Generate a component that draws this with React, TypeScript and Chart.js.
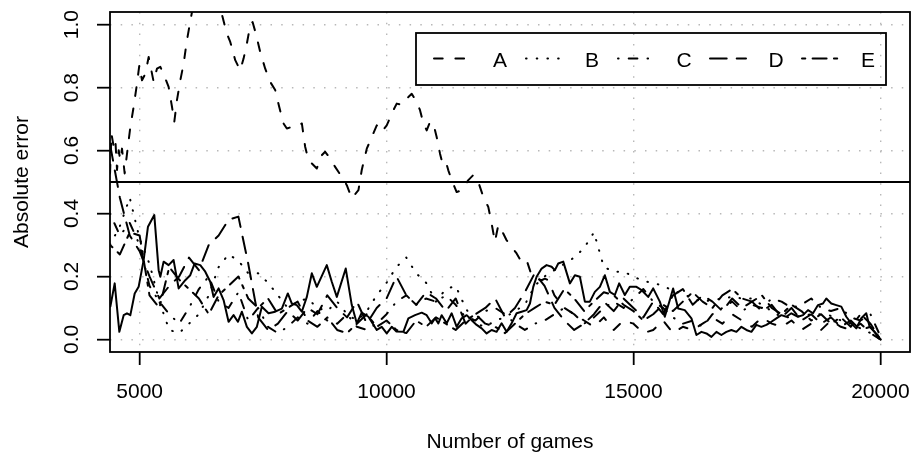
import React, { useEffect, useRef } from "react";
import { Chart, registerables } from "chart.js";

Chart.register(...registerables);

// ---------- data ----------
const xTicks = [5000, 10000, 15000, 20000];
const yTicks = [0, 0.2, 0.4, 0.6, 0.8, 1.0];
const yTickLabels = ["0.0", "0.2", "0.4", "0.6", "0.8", "1.0"];
const seriesNames = ["A", "B", "C", "D", "E"];
const xTitle = "Number of games";
const yTitle = "Absolute error";
const referenceLevel = 0.5;

const aGames = [
  4401, 4428, 4475, 4509, 4542, 4576, 4610, 4643, 4697, 4745,
  4812, 4879, 4947, 4994, 5048, 5115, 5183, 5237, 5284, 5351,
  5419, 5520, 5587, 5655, 5702, 5756, 5824, 5891, 5958, 6006,
  6060, 6200, 6400, 6550, 6653, 6767, 6835, 6936, 7037, 7105,
  7172, 7240, 7287, 7354, 7442, 7543, 7644, 7745, 7826, 7914,
  7981, 8082, 8184, 8285, 8352, 8420, 8487, 8588, 8689, 8757,
  8858, 8959, 9094, 9195, 9297, 9431, 9498, 9600, 9701, 9802,
  9903, 10004, 10139, 10206, 10320, 10442, 10510, 10611, 10678, 10746,
  10813, 10880, 10948, 11015, 11083, 11116, 11184, 11251, 11319, 11420,
  11521, 11656, 11757, 11858, 11959, 12060, 12128, 12195, 12263, 12330,
  12431, 12532, 12634, 12735, 12836, 12937, 13038, 13140, 13207, 13274,
  13400, 13600, 13800, 14000, 14200, 14400, 14600, 14800, 15000, 15200,
  15400, 15600, 15800, 16000, 16200, 16400, 16600, 16800, 17000, 17200,
  17400, 17600, 17800, 18000, 18200, 18400, 18600, 18800, 19000, 19200,
  19400, 19600, 19800, 20000,
];
const aValues = [
  0.527, 0.654, 0.612, 0.633, 0.538, 0.601, 0.569, 0.606, 0.527, 0.59,
  0.675, 0.739, 0.813, 0.871, 0.823, 0.844, 0.897, 0.855, 0.818, 0.86,
  0.866, 0.829, 0.802, 0.739, 0.691, 0.76, 0.823, 0.876, 0.95, 0.993,
  1.04, 1.12, 1.15, 1.12, 1.04, 0.971, 0.945, 0.887, 0.855, 0.892,
  0.94, 0.998, 1.008, 0.971, 0.913, 0.86, 0.818, 0.792, 0.739, 0.686,
  0.67, 0.675, 0.675, 0.686, 0.612, 0.569, 0.559, 0.543, 0.585, 0.596,
  0.575, 0.548, 0.516, 0.49, 0.448, 0.474, 0.538, 0.606, 0.643, 0.68,
  0.659, 0.68, 0.728, 0.749, 0.745, 0.77, 0.78, 0.754, 0.728, 0.686,
  0.664, 0.691, 0.686, 0.643, 0.59, 0.569, 0.575, 0.537, 0.506, 0.468,
  0.474, 0.506, 0.522, 0.5, 0.453, 0.421, 0.368, 0.31, 0.363, 0.347,
  0.315, 0.294, 0.273, 0.246, 0.252, 0.204, 0.193, 0.188, 0.193, 0.188,
  0.14, 0.1, 0.08, 0.06, 0.04, 0.07, 0.03, 0.06, 0.05, 0.02,
  0.03, 0.06, 0.02, 0.04, 0.03, 0.05, 0.07, 0.05, 0.08, 0.06,
  0.04, 0.07, 0.05, 0.04, 0.06, 0.03, 0.05, 0.03, 0.06, 0.04,
  0.03, 0.05, 0.02, 0.0,
];

const gamesGrid = [
  4400, 4600, 4800, 5000, 5200, 5400, 5600, 5800, 6000, 6200,
  6400, 6600, 6800, 7000, 7200, 7400, 7600, 7800, 8000, 8200,
  8400, 8600, 8800, 9000, 9200, 9400, 9600, 9800, 10000, 10200,
  10400, 10600, 10800, 11000, 11200, 11400, 11600, 11800, 12000, 12200,
  12400, 12600, 12800, 13000, 13200, 13400, 13600, 13800, 14000, 14200,
  14400, 14600, 14800, 15000, 15200, 15400, 15600, 15800, 16000, 16200,
  16400, 16600, 16800, 17000, 17200, 17400, 17600, 17800, 18000, 18200,
  18400, 18600, 18800, 19000, 19200, 19400, 19600, 19800, 20000,
];
const bValues = [
  0.3, 0.36, 0.45, 0.32, 0.24, 0.12, 0.03, 0.02, 0.05, 0.08,
  0.14, 0.23, 0.27, 0.25, 0.21, 0.21, 0.18, 0.14, 0.1, 0.12,
  0.13, 0.1, 0.09, 0.12, 0.08, 0.06, 0.09, 0.14, 0.18, 0.23,
  0.26, 0.21, 0.18, 0.12, 0.16, 0.17, 0.1, 0.05, 0.04, 0.06,
  0.07, 0.09, 0.11, 0.17, 0.2, 0.22, 0.24, 0.26, 0.29, 0.34,
  0.23, 0.215, 0.215, 0.2, 0.185, 0.18, 0.17, 0.155, 0.145, 0.13,
  0.12, 0.125, 0.13, 0.135, 0.13, 0.13, 0.11, 0.09, 0.07, 0.07,
  0.075, 0.08, 0.08, 0.075, 0.06, 0.05, 0.035, 0.02, 0.0,
];
const cValues = [
  0.4, 0.33, 0.37, 0.3, 0.17, 0.12, 0.08, 0.05, 0.1, 0.16,
  0.2, 0.12, 0.1, 0.15, 0.06, 0.1, 0.04, 0.02, 0.04, 0.07,
  0.05, 0.09, 0.06, 0.05, 0.08, 0.04, 0.03, 0.05, 0.08, 0.12,
  0.14, 0.11, 0.13, 0.12, 0.14, 0.11, 0.07, 0.06, 0.09, 0.1,
  0.08, 0.05, 0.03, 0.05, 0.06, 0.08, 0.1, 0.08, 0.05, 0.07,
  0.1, 0.12, 0.1, 0.13, 0.16, 0.12, 0.1, 0.07, 0.05, 0.06,
  0.04, 0.08, 0.1, 0.12, 0.09, 0.11, 0.1, 0.13, 0.12, 0.1,
  0.11, 0.13, 0.1, 0.09, 0.1, 0.07, 0.06, 0.08, 0.01,
];
const dValues = [
  0.62, 0.45, 0.33, 0.28, 0.2, 0.13, 0.17, 0.2, 0.26, 0.22,
  0.3, 0.33, 0.38, 0.39, 0.24, 0.07, 0.03, 0.05, 0.09, 0.06,
  0.1, 0.08, 0.14, 0.1, 0.07, 0.12, 0.05, 0.1, 0.13, 0.2,
  0.14, 0.11, 0.15, 0.13, 0.09, 0.13, 0.05, 0.08, 0.1, 0.13,
  0.07, 0.1, 0.15, 0.21, 0.17, 0.1, 0.06, 0.03, 0.05, 0.08,
  0.12, 0.09, 0.13, 0.1, 0.07, 0.12, 0.08, 0.14, 0.16, 0.11,
  0.14, 0.12, 0.09, 0.13, 0.1, 0.12, 0.09, 0.11, 0.07, 0.1,
  0.06, 0.08, 0.05, 0.07, 0.04, 0.06, 0.03, 0.04, 0.0,
];
const eValues = [
  0.3, 0.27, 0.34, 0.33, 0.14, 0.1, 0.23, 0.19, 0.16, 0.13,
  0.08, 0.14, 0.17, 0.2, 0.13, 0.1, 0.13, 0.08, 0.1, 0.12,
  0.06, 0.04, 0.07, 0.03, 0.02, 0.05, 0.08, 0.04, 0.06, 0.03,
  0.02, 0.06, 0.04, 0.07, 0.05, 0.03, 0.06, 0.08, 0.05, 0.04,
  0.02, 0.05, 0.08, 0.1, 0.12, 0.11, 0.16, 0.13, 0.09, 0.12,
  0.15, 0.14, 0.11, 0.09, 0.06, 0.08, 0.11, 0.09, 0.12, 0.15,
  0.12, 0.1, 0.14, 0.16, 0.13, 0.12, 0.14, 0.1, 0.08, 0.11,
  0.09, 0.06, 0.08, 0.05, 0.07, 0.04, 0.08, 0.05, 0.0,
];

// unlabelled solid series
const soloGames = [
  4407, 4495, 4589, 4677, 4744, 4812, 4900, 4980, 5081, 5169,
  5297, 5385, 5419, 5486, 5587, 5688, 5790, 5924, 6025, 6113,
  6228, 6329, 6430, 6497, 6599, 6700, 6801, 6902, 6990, 7071,
  7172, 7273, 7374, 7475, 7610, 7745, 7880, 8001, 8082, 8183,
  8284, 8386, 8487, 8588, 8790, 8891, 8993, 9174, 9296, 9397,
  9498, 9633,
  9802, 9903, 10004, 10105, 10200, 10341, 10442, 10577, 10712, 10813,
  10914, 10982, 11049, 11117, 11218, 11319, 11420, 11521, 11623, 11724,
  11825, 11926, 12027, 12128, 12229, 12330, 12432, 12533, 12634, 12735,
  12836, 12904, 12971, 13039, 13140, 13241, 13342, 13409, 13477, 13578,
  13713, 13814, 13915, 14016, 14117, 14218, 14320, 14421, 14522, 14623,
  14711, 14825, 14926, 15061,
  15163, 15298, 15399, 15534, 15635, 15736, 15803, 15905, 16039, 16174,
  16275, 16377, 16478, 16579, 16680, 16781, 16882, 16983, 17085, 17186,
  17287, 17388, 17489, 17590, 17691, 17793, 17894, 17995, 18096, 18197,
  18332, 18433, 18535, 18636, 18737, 18838, 18905, 19006, 19107, 19209,
  19310, 19411, 19512, 19613, 19714, 19782, 19883, 20004,
];
const soloValues = [
  0.104, 0.178, 0.024, 0.077, 0.083, 0.077, 0.146, 0.167, 0.252, 0.358,
  0.395, 0.22, 0.199, 0.247, 0.236, 0.252, 0.162, 0.188, 0.204, 0.241,
  0.236, 0.215, 0.183, 0.135, 0.162, 0.125, 0.056, 0.077, 0.056, 0.088,
  0.04, 0.019, 0.04, 0.104, 0.083, 0.088, 0.098, 0.146, 0.114, 0.109,
  0.088, 0.135, 0.21, 0.167, 0.236, 0.183, 0.135, 0.225, 0.109, 0.051,
  0.085, 0.072,
  0.03, 0.04, 0.019, 0.04, 0.025, 0.024, 0.067, 0.077, 0.085, 0.077,
  0.051, 0.067, 0.051, 0.077, 0.051, 0.083, 0.04, 0.067, 0.077, 0.061,
  0.046, 0.035, 0.019, 0.03, 0.024, 0.051, 0.024, 0.051, 0.083, 0.088,
  0.093, 0.114, 0.167, 0.199, 0.225, 0.236, 0.231, 0.22, 0.241, 0.247,
  0.178, 0.204, 0.199, 0.12, 0.12, 0.151, 0.167, 0.204, 0.151, 0.141,
  0.178, 0.141, 0.167, 0.167,
  0.157, 0.135, 0.162, 0.12, 0.072, 0.125, 0.162, 0.098, 0.093, 0.067,
  0.014, 0.024, 0.019, 0.008, 0.024, 0.014, 0.024, 0.03, 0.024, 0.04,
  0.03, 0.024, 0.046, 0.04, 0.046, 0.056, 0.067, 0.077, 0.072, 0.083,
  0.072, 0.077, 0.093, 0.083, 0.109, 0.114, 0.13, 0.114, 0.109, 0.104,
  0.072, 0.051, 0.035, 0.067, 0.083, 0.04, 0.024, 0.0,
];

// ---------- styling ----------
const FONT = '21px "Liberation Sans", Arial, Helvetica, sans-serif';
const LW = 2;
const X_MIN = 4400;
const X_MAX = 20600;
const dashes: number[][] = [
  [8.7, 12.7], // A dashed
  [0.6, 10.1], // B dotted
  [0.6, 10.1, 8.7, 10.1], // C dotdash
  [16.7, 10], // D longdash
  [3.3, 7.3, 14, 7.3], // E twodash
];

function pts(xs: number[], ys: number[]) {
  const n = Math.min(xs.length, ys.length);
  const out: { x: number; y: number }[] = [];
  for (let i = 0; i < n; i++) out.push({ x: xs[i], y: ys[i] });
  return out;
}

const framePlugin = {
  id: "rframe",
  afterDraw(chart: any) {
    const { ctx, chartArea: ca, scales } = chart;
    const xs = scales.x;
    const ys = scales.y;
    ctx.save();
    ctx.setLineDash([]);
    ctx.strokeStyle = "#000";
    ctx.lineWidth = 1.8;
    ctx.strokeRect(ca.left, ca.top, ca.right - ca.left, ca.bottom - ca.top);

    ctx.fillStyle = "#000";
    ctx.font = FONT;
    ctx.textAlign = "center";
    ctx.textBaseline = "alphabetic";
    xTicks.forEach((v) => ctx.fillText(String(v), xs.getPixelForValue(v), 398));
    ctx.fillText(xTitle, (ca.left + ca.right) / 2, 448);
    yTicks.forEach((v, i) => {
      ctx.save();
      ctx.translate(78, ys.getPixelForValue(v));
      ctx.rotate(-Math.PI / 2);
      ctx.fillText(yTickLabels[i], 0, 0);
      ctx.restore();
    });
    ctx.save();
    ctx.translate(28, (ca.top + ca.bottom) / 2);
    ctx.rotate(-Math.PI / 2);
    ctx.fillText(yTitle, 0, 0);
    ctx.restore();

    // legend
    const bx = 416, by = 33, bw = 470, bh = 52;
    ctx.lineWidth = 1.8;
    ctx.strokeRect(bx, by, bw, bh);
    ctx.lineWidth = LW;
    seriesNames.forEach((name, i) => {
      const c = 500 + i * 92;
      ctx.beginPath();
      ctx.setLineDash(dashes[i]);
      ctx.lineCap = "round";
      ctx.moveTo(c - 66, 58.5);
      ctx.lineTo(c - 30, 58.5);
      ctx.stroke();
      ctx.setLineDash([]);
      ctx.fillText(name, c, 67);
    });
    ctx.restore();
  },
};

export default function App() {
  const ref = useRef<HTMLCanvasElement | null>(null);
  useEffect(() => {
    if (!ref.current) return;
    const common = {
      borderColor: "#000",
      borderWidth: LW,
      pointRadius: 0,
      tension: 0,
      fill: false,
      clip: 0,
      borderCapStyle: "round",
      borderJoinStyle: "round",
    };
    const series = [
      pts(aGames, aValues),
      pts(gamesGrid, bValues),
      pts(gamesGrid, cValues),
      pts(gamesGrid, dValues),
      pts(gamesGrid, eValues),
    ];
    const datasets: any[] = series.map((d, i) => ({
      ...common,
      label: seriesNames[i],
      data: d,
      borderDash: dashes[i],
    }));
    datasets.push({ ...common, label: "", data: pts(soloGames, soloValues), borderDash: [] });
    datasets.push({
      ...common,
      label: "",
      borderWidth: 1.8,
      data: [
        { x: X_MIN, y: referenceLevel },
        { x: X_MAX, y: referenceLevel },
      ],
      borderDash: [],
      borderCapStyle: "butt",
    });

    const gridCfg = {
      color: "#b8b8b8",
      lineWidth: 1.4,
      drawTicks: true,
      tickLength: 13,
      tickColor: "#000",
      tickWidth: 1.8,
      tickBorderDash: [],
    };

    const chart = new Chart(ref.current, {
      type: "line",
      data: { datasets },
      plugins: [framePlugin],
      options: {
        responsive: false,
        animation: false,
        devicePixelRatio: 1,
        layout: { padding: { left: 0, top: 12, right: 3, bottom: 0 } },
        plugins: { legend: { display: false }, tooltip: { enabled: false } },
        scales: {
          x: {
            type: "linear",
            min: X_MIN,
            max: X_MAX,
            afterBuildTicks: (s: any) => {
              s.ticks = xTicks.map((v) => ({ value: v }));
            },
            afterFit: (s: any) => {
              s.height = 103;
            },
            ticks: { display: false },
            grid: gridCfg,
            border: { display: false, dash: [1.5, 9.2] },
          },
          y: {
            type: "linear",
            min: -0.04,
            max: 1.04,
            afterBuildTicks: (s: any) => {
              s.ticks = yTicks.map((v) => ({ value: v }));
            },
            afterFit: (s: any) => {
              s.width = 110;
            },
            ticks: { display: false },
            grid: gridCfg,
            border: { display: false, dash: [1.5, 9.2] },
          },
        },
      } as any,
    });
    return () => chart.destroy();
  }, []);

  return (
    <div style={{ position: "fixed", left: 0, top: 0, width: 913, height: 455, background: "#fff" }}>
      <canvas ref={ref} width={913} height={455} style={{ display: "block", width: 913, height: 455 }} />
    </div>
  );
}
